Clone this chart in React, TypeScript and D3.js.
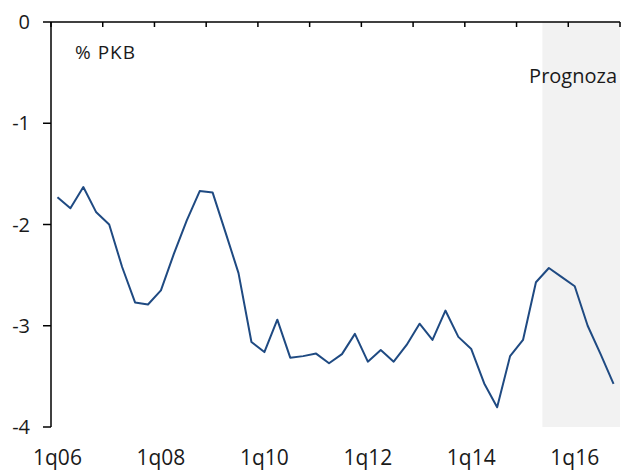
import React from "react";
import * as d3 from "d3";

const years = [2006, 2007, 2008, 2009, 2010, 2011, 2012, 2013, 2014, 2015, 2016];
const quarterNames = ["1q", "2q", "3q", "4q"];
const values = [
  -1.73, -1.84, -1.63, -1.88,
  -2.0, -2.42, -2.77, -2.79,
  -2.65, -2.29, -1.96, -1.67,
  -1.685, -2.08, -2.48, -3.16,
  -3.26, -2.94, -3.315, -3.3,
  -3.275, -3.37, -3.28, -3.08,
  -3.355, -3.24, -3.355, -3.19,
  -2.98, -3.14, -2.85, -3.11,
  -3.23, -3.57, -3.805, -3.3,
  -3.14, -2.57, -2.43, -2.52,
  -2.61, -3.0, -3.28, -3.575,
];
const yTicks = [0, -1, -2, -3, -4];
const xLabelYears = [2006, 2008, 2010, 2012, 2014, 2016];
const forecastStart = "3q15";
const unitLabel = "% PKB";
const forecastLabel = "Prognoza";

const categories: string[] = [];
years.forEach((y) =>
  quarterNames.forEach((q) => categories.push(q + String(y).slice(2)))
);

const W = 622;
const H = 472;
const left = 51;
const right = 620;
const top = 22;
const bottom = 427;
const font = "'Open Sans', sans-serif";
const textColor = "#1a1a1a";

export default function App() {
  const n = categories.length;
  const x = d3.scaleLinear().domain([0, n]).range([left, right]);
  const y = d3.scaleLinear().domain([-4, 0]).range([bottom, top]);
  const line = d3
    .line<number>()
    .x((_, i) => x(i + 0.5))
    .y((d) => y(d));
  const fIdx = categories.indexOf(forecastStart);
  const yearTicks = d3.range(0, n + 1, 4);

  return (
    <svg
      width={W}
      height={H}
      style={{ position: "absolute", left: 0, top: 0, background: "#fff" }}
    >
      <rect
        x={x(fIdx)}
        y={y(0)}
        width={x(n) - x(fIdx)}
        height={y(-4) - y(0)}
        fill="#f2f2f2"
      />
      <path d={line(values) || ""} fill="none" stroke="#1f4a82" strokeWidth={2} strokeLinejoin="round" />
      {/* y axis */}
      <line x1={left} x2={left} y1={y(0)} y2={y(-4)} stroke="#000" strokeWidth={1.5} />
      {yTicks.map((t) => (
        <g key={t}>
          <line x1={left - 8} x2={left} y1={y(t)} y2={y(t)} stroke="#000" strokeWidth={1.5} />
          <text
            x={30}
            y={y(t)}
            dy="0.35em"
            textAnchor="end"
            fontFamily={font}
            fontSize={20}
            fill={textColor}
          >
            {t === 0 ? "0" : String(t)}
          </text>
        </g>
      ))}
      {/* top x axis */}
      <line x1={left} x2={right} y1={y(0)} y2={y(0)} stroke="#000" strokeWidth={1.5} />
      {yearTicks.map((i) => (
        <line key={i} x1={x(i)} x2={x(i)} y1={y(0)} y2={y(0) + 5} stroke="#000" strokeWidth={1.5} />
      ))}
      {xLabelYears.map((yr) => {
        const i = categories.indexOf("1q" + String(yr).slice(2));
        return (
          <text
            key={yr}
            x={x(i + 0.5)}
            y={465}
            textAnchor="middle"
            fontFamily={font}
            fontSize={21}
            fill={textColor}
          >
            {categories[i]}
          </text>
        );
      })}
      <text x={75} y={59} fontFamily={font} fontSize={19} letterSpacing={1} fill={textColor}>
        {unitLabel}
      </text>
      <text x={617} y={83} textAnchor="end" fontFamily={font} fontSize={20} fill={textColor}>
        {forecastLabel}
      </text>
    </svg>
  );
}
